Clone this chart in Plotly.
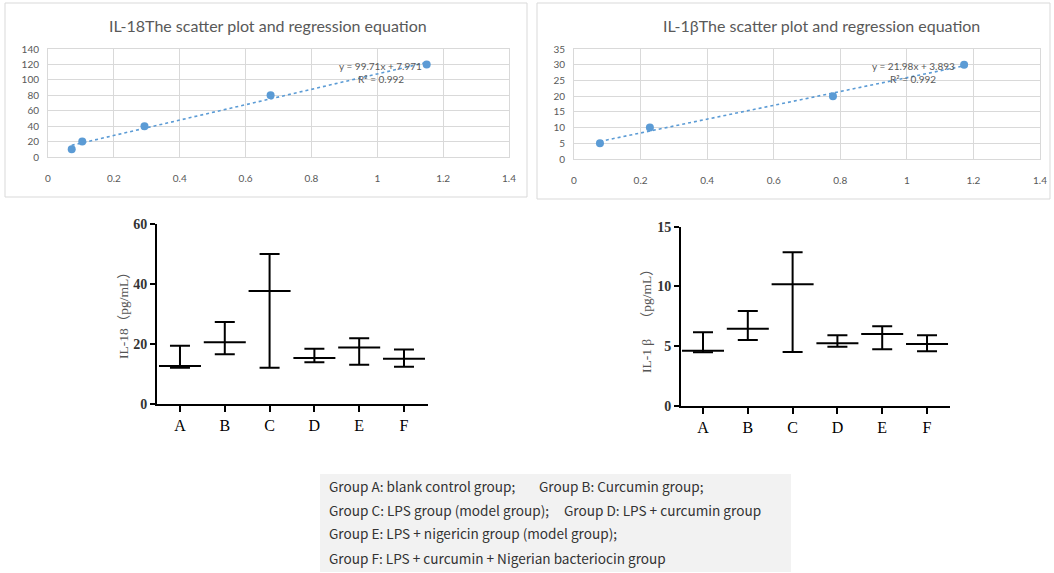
import plotly.graph_objects as go

W, H = 1054, 573

# ---- data ----
il18_od = [0.072, 0.104, 0.293, 0.676, 1.150]
il18_conc = [10, 20, 40, 80, 120]
il18_slope, il18_icpt, il18_r2 = 99.71, 7.971, 0.992

il1b_od = [0.078, 0.228, 0.778, 1.172]
il1b_conc = [5, 10, 20, 30]
il1b_slope, il1b_icpt, il1b_r2 = 21.98, 3.893, 0.992

groups = ["A", "B", "C", "D", "E", "F"]
il18_mean = [12.7, 20.6, 37.7, 15.3, 18.8, 15.1]
il18_low = [12.1, 16.6, 12.1, 13.9, 13.1, 12.4]
il18_high = [19.4, 27.3, 50.0, 18.4, 21.9, 18.2]

il1b_mean = [4.63, 6.47, 10.18, 5.25, 6.02, 5.19]
il1b_low = [4.49, 5.52, 4.52, 4.96, 4.74, 4.57]
il1b_high = [6.17, 7.95, 12.86, 5.91, 6.67, 5.91]

legend_lines = [
    [("Group A: blank control group;", 327), ("Group B: Curcumin group;", 537)],
    [("Group C: LPS group (model group);", 327), ("Group D: LPS + curcumin group", 562)],
    [("Group E: LPS + nigericin group (model group);", 327)],
    [("Group F: LPS + curcumin + Nigerian bacteriocin group", 327)],
]


def px(x):
    return x / W


def py(y):
    return 1 - y / H


BLUE = "#5b9bd5"
GRID = "#d9d9d9"
GREY = "#595959"

fig = go.Figure()

# ---- top scatter panels ----
def scatter_panel(xs, ys, slope, icpt, xa, ya):
    x0, x1 = min(xs), max(xs)
    fig.add_trace(go.Scatter(x=[x0, x1], y=[slope * x0 + icpt, slope * x1 + icpt],
                             mode="lines", line=dict(color=BLUE, width=1.6, dash="dot"),
                             xaxis=xa, yaxis=ya, showlegend=False, hoverinfo="skip"))
    fig.add_trace(go.Scatter(x=xs, y=ys, mode="markers",
                             marker=dict(color=BLUE, size=8),
                             xaxis=xa, yaxis=ya, showlegend=False))

scatter_panel(il18_od, il18_conc, il18_slope, il18_icpt, "x", "y")
scatter_panel(il1b_od, il1b_conc, il1b_slope, il1b_icpt, "x2", "y2")

# ---- bottom mean + range panels ----
def range_panel(mean, low, high, xa, ya):
    fig.add_trace(go.Scatter(
        x=groups, y=mean, mode="markers",
        marker=dict(symbol="line-ew", size=30, line=dict(color="black", width=2)),
        error_y=dict(type="data", symmetric=False,
                     array=[h - m for h, m in zip(high, mean)],
                     arrayminus=[m - l for m, l in zip(mean, low)],
                     color="black", thickness=2, width=10),
        xaxis=xa, yaxis=ya, showlegend=False))

range_panel(il18_mean, il18_low, il18_high, "x3", "y3")
range_panel(il1b_mean, il1b_low, il1b_high, "x4", "y4")

tick_font_small = dict(family="Lato, Liberation Sans, sans-serif", size=10, color=GREY)

top_x = dict(range=[0, 1.4], dtick=0.2, showgrid=True, gridcolor=GRID, gridwidth=1,
             showline=True, linecolor=GRID, mirror=True, zeroline=False,
             ticks="outside", ticklen=12, tickcolor="rgba(0,0,0,0)",
             tickfont=tick_font_small, fixedrange=True, automargin=False)
top_y = dict(showgrid=True, gridcolor=GRID, gridwidth=1, showline=True, linecolor=GRID,
             mirror=True, zeroline=False, ticks="outside", ticklen=6,
             tickcolor="rgba(0,0,0,0)", tickfont=tick_font_small, fixedrange=True,
             automargin=False)

bot_x = dict(type="category", showline=True, linecolor="black", linewidth=2,
             ticks="outside", ticklen=6, tickwidth=2, tickcolor="black",
             showgrid=False, zeroline=False,
             tickfont=dict(family="Liberation Serif, DejaVu Serif, serif", size=16, color="black"),
             fixedrange=True, automargin=False)
bot_y = dict(showline=True, linecolor="black", linewidth=2, ticks="outside", ticklen=5,
             tickwidth=2, tickcolor="black", showgrid=False, zeroline=False,
             tickfont=dict(family="Liberation Serif, DejaVu Serif, serif", size=14,
                           color="#333333", weight="bold"), fixedrange=True,
             automargin=False)

fig.update_layout(
    template="none",
    width=W, height=H, margin=dict(l=0, r=0, t=0, b=0, pad=0, autoexpand=False),
    paper_bgcolor="white", plot_bgcolor="white", showlegend=False,
    xaxis=dict(domain=[px(48), px(509)], anchor="y", **top_x),
    yaxis=dict(domain=[py(157), py(49)], anchor="x", range=[0, 140], dtick=20, **top_y),
    xaxis2=dict(domain=[px(574), px(1040)], anchor="y2", **top_x),
    yaxis2=dict(domain=[py(159), py(49)], anchor="x2", range=[0, 35], dtick=5, **top_y),
    xaxis3=dict(domain=[px(157), px(428)], anchor="y3", range=[-0.513, 5.536], **bot_x),
    yaxis3=dict(domain=[py(404), py(224)], anchor="x3", range=[0, 60], dtick=20, **bot_y),
    xaxis4=dict(domain=[px(681), px(950)], anchor="y4", range=[-0.491, 5.513], **bot_x),
    yaxis4=dict(domain=[py(406), py(226.7)], anchor="x4", range=[0, 15], dtick=5, **bot_y),
)

shapes = [
    dict(type="rect", xref="paper", yref="paper", x0=px(5), x1=px(527), y0=py(197), y1=py(3),
         line=dict(color=GRID, width=1)),
    dict(type="rect", xref="paper", yref="paper", x0=px(537), x1=px(1050), y0=py(199), y1=py(3),
         line=dict(color=GRID, width=1)),
    dict(type="rect", xref="paper", yref="paper", x0=px(320), x1=px(791), y0=py(572), y1=py(474),
         line=dict(width=0), fillcolor="#f2f2f2", layer="below"),
]
fig.update_layout(shapes=shapes)


def note(text, x, y, font, xanchor="center", angle=0):
    return dict(text=text, x=px(x), y=py(y), xref="paper", yref="paper",
                xanchor=xanchor, yanchor="middle", showarrow=False, font=font,
                textangle=angle)


ann = []
title_font = dict(family="Lato, Liberation Sans, sans-serif", size=16, color=GREY)
ann.append(note("IL-18The scatter plot and regression equation", 268, 25, title_font))
ann.append(note("IL-1βThe scatter plot and regression equation", 821, 25, title_font))

eq_font = dict(family="Lato, Liberation Sans, sans-serif", size=10, color=GREY)
ann.append(note(f"y = {il18_slope}x + {il18_icpt}", 381, 66, eq_font))
ann.append(note(f"R² = {il18_r2}", 381, 79, eq_font))
ann.append(note(f"y = {il1b_slope}x + {il1b_icpt}", 913, 66, eq_font))
ann.append(note(f"R² = {il1b_r2}", 913, 79, eq_font))

ytitle_font = dict(family="Liberation Serif, Noto Sans CJK SC, serif", size=13.5, color="#555555")
ann.append(note("IL-18（pg/mL）", 123, 312, ytitle_font, angle=-90))
ann.append(note("IL-1\u00a0β\u00a0\u00a0\u00a0\u00a0（pg/mL）", 646, 318, ytitle_font, angle=-90))

leg_font = dict(family="Noto Sans CJK SC, Noto Sans, sans-serif", size=13.6, color="#333333")
line_y = [486, 510, 533, 558]
for yy, items in zip(line_y, legend_lines):
    for txt, xx in items:
        ann.append(note(txt, xx, yy, leg_font, xanchor="left"))

fig.update_layout(annotations=ann)

fig.write_html("out.html", config={"displayModeBar": False},
               post_script="document.body.style.margin='0';document.body.style.overflow='hidden';")
